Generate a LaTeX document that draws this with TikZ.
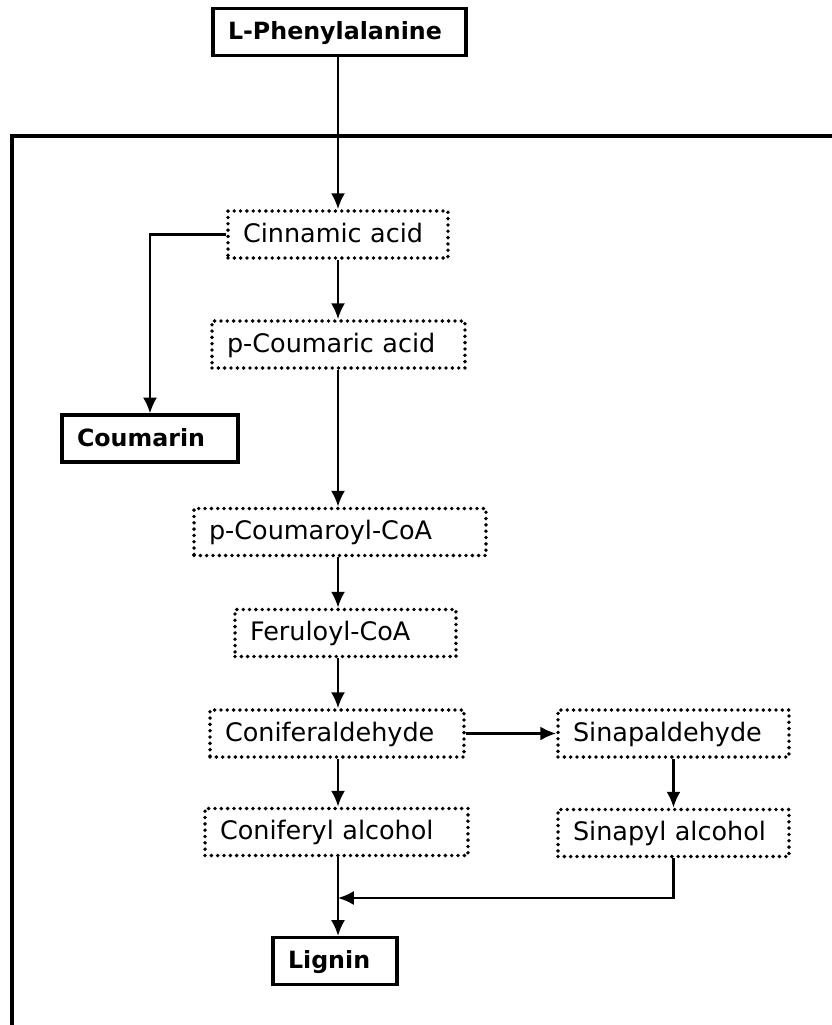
\documentclass[tikz,border=0pt]{standalone}
\usepackage{fontspec}
\setmainfont{DejaVu Sans}
\usetikzlibrary{arrows.meta}
\tikzstyle{every node}=[font=\fontsize{14.5}{17}\selectfont]
\tikzstyle{compound}=[draw,line width=2.2pt,dash pattern=on 0pt off 3.6pt,line cap=round,
  minimum height=0.94cm,inner xsep=0.3cm,align=left,text height=12pt,text depth=3pt]
\tikzstyle{endpoint}=[draw,line width=1.8pt,minimum height=0.94cm,inner xsep=0.3cm,align=left,
  text height=12pt,text depth=3pt,font=\fontsize{13.5}{16}\selectfont\bfseries]
\tikzset{link/.style={line width=1.3pt,arrows={-Latex[length=9pt,width=8pt]}}}

\begin{document}
\begin{tikzpicture}[x=0.02cm,y=-0.02cm]
			\useasboundingbox (0,0) rectangle (832,1025);
			% outer frame
			\draw[line width=2.3pt] (12,1025) -- (12,136) -- (832,136);
			\coordinate (axis) at (338,0);
			\coordinate (merge) at (338,898);
			\node[endpoint,text width=4.46cm]  (phe)       at (339.5,32)  {L-Phenylalanine};
			\node[compound,text width=3.80cm]  (cinnamic)  at (338,234.5) {Cinnamic acid};
			\node[compound,text width=4.46cm]  (pcoumaric) at (338.5,344.5) {p-Coumaric acid};
			\node[endpoint,text width=2.92cm]  (coumarin)  at (150,438.5) {Coumarin};
			\node[compound,text width=5.24cm]  (pcoa)      at (340,532)   {p-Coumaroyl-CoA};
			\node[compound,text width=3.82cm]  (fcoa)      at (345.5,633) {Feruloyl-CoA};
			\node[compound,text width=4.48cm]  (conald)    at (337,733.5) {Coniferaldehyde};
			\node[compound,text width=4.02cm]  (sinald)    at (673.5,733.5) {Sinapaldehyde};
			\node[compound,text width=4.66cm]  (conalc)    at (336.5,832) {Coniferyl alcohol};
			\node[compound,text width=4.02cm]  (sinalc)    at (673.5,833) {Sinapyl alcohol};
			\node[endpoint,text width=1.88cm]  (lignin)    at (335,961)   {Lignin};
			\draw[link] (phe.south -| axis) -- (cinnamic.north -| axis);
			\draw[link] (cinnamic.south -| axis) -- (pcoumaric.north -| axis);
			\draw[link] (cinnamic.west) -| (coumarin.north);
			\draw[link] (pcoumaric.south -| axis) -- (pcoa.north -| axis);
			\draw[link] (pcoa.south -| axis) -- (fcoa.north -| axis);
			\draw[link] (fcoa.south -| axis) -- (conald.north -| axis);
			\draw[link] (conald.east) -- (sinald.west);
			\draw[link] (conald.south -| axis) -- (conalc.north -| axis);
			\draw[link] (sinald.south) -- (sinalc.north);
			\draw[link] (conalc.south -| axis) -- (lignin.north -| axis);
			\draw[link] (sinalc.south) |- (merge);
		\end{tikzpicture}
\end{document}
